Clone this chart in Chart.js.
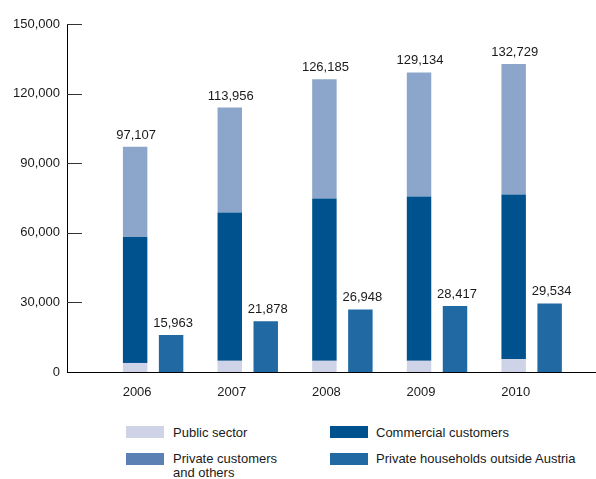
<!DOCTYPE html>
<html>
<head>
<meta charset="utf-8">
<script src="https://cdn.jsdelivr.net/npm/chart.js@4.4.0/dist/chart.umd.min.js"></script>
<style>
  html, body { margin: 0; padding: 0; background: #fff; }
  body { width: 596px; height: 479px; position: relative; overflow: hidden;
         font-family: "Liberation Sans", Arial, sans-serif; color: #1a1a1a; }
  #wrap { position: absolute; left: 0; top: 0; width: 596px; height: 410px; }
  .sw { position: absolute; width: 38px; height: 12px; }
  .lg { position: absolute; font-size: 13px; line-height: 14px; white-space: nowrap; }
</style>
</head>
<body>
<div id="wrap"><canvas id="chart"></canvas></div>

<div class="sw" style="left:126px;top:426px;background:#cfd3e7"></div>
<div class="lg" style="left:173px;top:426px">Public sector</div>
<div class="sw" style="left:330px;top:426px;background:#00528f"></div>
<div class="lg" style="left:376px;top:426px">Commercial customers</div>
<div class="sw" style="left:126px;top:453px;background:#5b80b4"></div>
<div class="lg" style="left:173px;top:452px">Private customers<br>and others</div>
<div class="sw" style="left:330px;top:453px;background:#2169a3"></div>
<div class="lg" style="left:376px;top:452px">Private households outside Austria</div>

<script>
// ------------------------------------------------------------
// Data
// ------------------------------------------------------------
const years = ["2006", "2007", "2008", "2009", "2010"];
const publicSector = [3900, 4800, 4800, 4800, 5600];
const commercial = [54300, 63900, 70000, 70850, 70900];
const privateOthers = [38907, 45256, 51385, 53484, 56229];
const outsideAustria = [15963, 21878, 26948, 28417, 29534];
const yTicks = [0, 30000, 60000, 90000, 120000, 150000];

// ------------------------------------------------------------
// Helpers
// ------------------------------------------------------------
const FONT = "'Liberation Sans', Arial, sans-serif";
const fmt = (n) => n.toLocaleString("en-US");
const pts = (arr) => arr.map((v, i) => ({ x: i, y: v }));

// short tick marks on the inside of the y axis
const innerTicks = {
  id: "innerTicks",
  afterDraw(chart) {
    const { ctx, chartArea } = chart;
    const y = chart.scales.y;
    ctx.save();
    ctx.strokeStyle = "#333";
    ctx.lineWidth = 1;
    for (const v of yTicks) {
      if (v === 0) continue;
      const py = Math.round(y.getPixelForValue(v)) + 0.5;
      ctx.beginPath();
      ctx.moveTo(chartArea.left, py);
      ctx.lineTo(chartArea.left + 15, py);
      ctx.stroke();
    }
    ctx.restore();
  }
};

// value labels above the bars
const valueLabels = {
  id: "valueLabels",
  afterDatasetsDraw(chart) {
    const { ctx } = chart;
    const topMeta = chart.getDatasetMeta(2);
    const outMeta = chart.getDatasetMeta(3);
    ctx.save();
    ctx.font = `13px ${FONT}`;
    ctx.fillStyle = "#1a1a1a";
    ctx.textAlign = "center";
    ctx.textBaseline = "alphabetic";
    years.forEach((_, i) => {
      const total = publicSector[i] + commercial[i] + privateOthers[i];
      const b = topMeta.data[i];
      ctx.fillText(fmt(total), b.x + 1, b.y - 8);
      const o = outMeta.data[i];
      ctx.fillText(fmt(outsideAustria[i]), o.x + 2, o.y - 8);
    });
    ctx.restore();
  }
};

// ------------------------------------------------------------
// Chart
// ------------------------------------------------------------
const common = { categoryPercentage: 0.76, barPercentage: 0.68, borderWidth: 0 };

new Chart(document.getElementById("chart"), {
  type: "bar",
  data: {
    datasets: [
      { label: "Public sector", data: pts(publicSector), backgroundColor: "#cfd3e7", stack: "a", ...common },
      { label: "Commercial customers", data: pts(commercial), backgroundColor: "#00528f", stack: "a", ...common },
      { label: "Private customers and others", data: pts(privateOthers), backgroundColor: "#8ba6ca", stack: "a", ...common },
      { label: "Private households outside Austria", data: pts(outsideAustria), backgroundColor: "#2169a3", stack: "b", ...common },
    ]
  },
  options: {
    responsive: true,
    maintainAspectRatio: false,
    animation: false,
    layout: { padding: { left: 0, right: 0, top: 24, bottom: 0 } },
    plugins: { legend: { display: false }, tooltip: { enabled: false } },
    scales: {
      x: {
        type: "linear",
        stacked: true,
        offset: false,
        min: -0.91,
        max: 4.68,
        grid: { display: false, offset: false },
        border: { display: true, color: "#000", width: 1 },
        ticks: {
          stepSize: 1,
          includeBounds: false,
          autoSkip: false,
          maxRotation: 0,
          labelOffset: -16,
          padding: 5,
          color: "#1a1a1a",
          font: { family: FONT, size: 13 },
          callback: (v) => (Number.isInteger(v) && years[v]) ? years[v] : ""
        },
        afterFit: (s) => { s.height = 38; }
      },
      y: {
        stacked: true,
        min: 0,
        max: 150000,
        grid: { display: false, drawTicks: false },
        border: { display: true, color: "#000", width: 1 },
        ticks: {
          stepSize: 30000,
          padding: 7,
          color: "#1a1a1a",
          font: { family: FONT, size: 13 },
          callback: (v) => fmt(v)
        },
        afterFit: (s) => { s.width = 67; }
      }
    }
  },
  plugins: [innerTicks, valueLabels]
});
</script>
</body>
</html>
